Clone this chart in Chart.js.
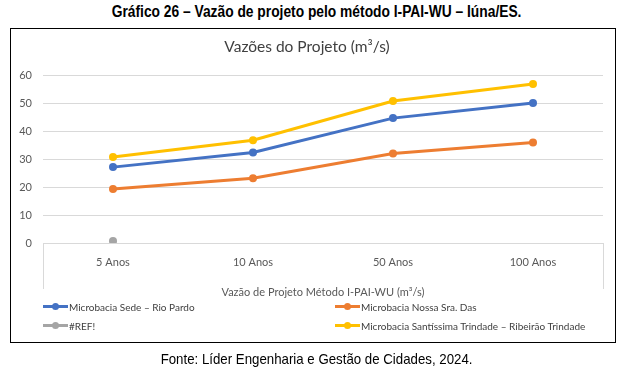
<!DOCTYPE html>
<html><head><meta charset="utf-8">
<script src="https://cdn.jsdelivr.net/npm/chart.js@4/dist/chart.umd.min.js"></script>
<style>
html,body{margin:0;padding:0;background:#fff;}
body{width:633px;height:381px;position:relative;overflow:hidden;}
#heading{position:absolute;left:0;width:633px;top:3px;text-align:center;font:bold 16px "Liberation Sans Narrow","Arial Narrow","Liberation Sans",Arial,sans-serif;color:#000;white-space:nowrap;transform:scaleX(0.862);transform-origin:317px 0;}
#box{position:absolute;left:10px;top:28px;width:604px;height:313px;border:1px solid #000;}
#c{position:absolute;left:0;top:0;}
#legend{position:absolute;left:43px;top:297px;width:560px;display:grid;grid-template-columns:292px 1fr;grid-auto-rows:19px;font:10px Lato,sans-serif;color:#404040;}
.item{display:flex;align-items:center;white-space:nowrap;}
.mk{position:relative;width:25px;height:3px;margin-right:1px;flex:none;}
.mk span{position:absolute;left:9px;top:-2px;width:7px;height:7px;border-radius:50%;}
#footer{position:absolute;left:0;width:633px;top:350px;text-align:center;font:15px "Liberation Sans Narrow","Arial Narrow","Liberation Sans",Arial,sans-serif;color:#000;white-space:nowrap;transform:scaleX(0.884);transform-origin:317px 0;}
</style></head>
<body>
<div id="heading">Gráfico 26 – Vazão de projeto pelo método I-PAI-WU – Iúna/ES.</div>
<div id="box"></div>
<canvas id="c" width="633" height="381"></canvas>
<div id="legend"></div>
<div id="footer">Fonte: Líder Engenharia e Gestão de Cidades, 2024.</div>
<script>
const categories = ['5 Anos', '10 Anos', '50 Anos', '100 Anos'];
const seriesNames = ['Microbacia Sede – Rio Pardo', 'Microbacia Nossa Sra. Das', '#REF!', 'Microbacia Santíssima Trindade – Ribeirão Trindade'];
const sedeRioPardo = [27.1, 32.3, 44.6, 50.0];
const nossaSraDas = [19.3, 23.1, 32.0, 35.9];
const refError = [0.7, null, null, null];
const santissimaTrindade = [30.7, 36.7, 50.7, 56.8];
const seriesColors = ['#4472C4', '#ED7D31', '#A5A5A5', '#FFC000'];
const yTicks = [0, 10, 20, 30, 40, 50, 60];
const chartTitle = 'Vazões do Projeto (m³/s)';
const xTitle = 'Vazão de Projeto Método I-PAI-WU (m³/s)';

const seriesValues = [sedeRioPardo, nossaSraDas, refError, santissimaTrindade];
const datasets = seriesValues.map((vals, i) => ({
  label: seriesNames[i],
  data: vals,
  borderColor: seriesColors[i],
  backgroundColor: seriesColors[i],
  borderWidth: 3,
  pointRadius: 4,
  pointBorderWidth: 0,
  pointBackgroundColor: seriesColors[i],
  tension: 0
}));

const edgeLines = {
  id: 'edgeLines',
  afterDraw(chart) {
    const {ctx, chartArea} = chart;
    const xs = chart.scales.x;
    ctx.save();
    ctx.strokeStyle = '#D9D9D9';
    ctx.lineWidth = 1;
    ctx.beginPath();
    [chartArea.left, chartArea.right].forEach(px => {
      const x = Math.round(px) + 0.5;
      ctx.moveTo(x, chartArea.bottom);
      ctx.lineTo(x, xs.bottom - 12);
    });
    ctx.stroke();
    ctx.restore();
  }
};

const chart = new Chart(document.getElementById('c'), {
  type: 'line',
  data: { labels: categories, datasets },
  plugins: [edgeLines],
  options: {
    responsive: false,
    animation: false,
    layout: { padding: { left: 11, right: 30, top: 28, bottom: 80 } },
    plugins: {
      legend: { display: false },
      tooltip: { enabled: false },
      title: {
        display: true,
        text: chartTitle,
        color: '#404040',
        font: { family: 'Lato', size: 15.5, weight: 'normal' },
        padding: { top: 10, bottom: 18.4 }
      }
    },
    scales: {
      x: {
        offset: true,
        grid: { display: false, drawTicks: false },
        border: { display: true, color: '#D9D9D9', width: 1 },
        ticks: { color: '#595959', font: { family: 'Lato', size: 11 }, padding: 13, maxRotation: 0, autoSkip: false },
        title: { display: true, text: xTitle, color: '#595959', font: { family: 'Lato', size: 11 }, padding: { top: 0, bottom: 1.5 } },
        afterFit(s) { s.height = 58; }
      },
      y: {
        min: yTicks[0],
        max: yTicks[yTicks.length - 1],
        afterBuildTicks(s) { s.ticks = yTicks.map(v => ({ value: v })); },
        grid: { color: '#D9D9D9', drawTicks: false, lineWidth: 1 },
        border: { display: false },
        ticks: { color: '#595959', font: { family: 'Lato', size: 11 }, padding: 11 },
        afterFit(s) { s.width = 32; }
      }
    }
  }
});

const legend = document.getElementById('legend');
chart.data.datasets.forEach(ds => {
  const item = document.createElement('div');
  item.className = 'item';
  const mk = document.createElement('div');
  mk.className = 'mk';
  mk.style.background = ds.borderColor;
  const dot = document.createElement('span');
  dot.style.background = ds.borderColor;
  mk.appendChild(dot);
  const t = document.createElement('span');
  t.textContent = ds.label;
  item.appendChild(mk);
  item.appendChild(t);
  legend.appendChild(item);
});
</script>
</body></html>
